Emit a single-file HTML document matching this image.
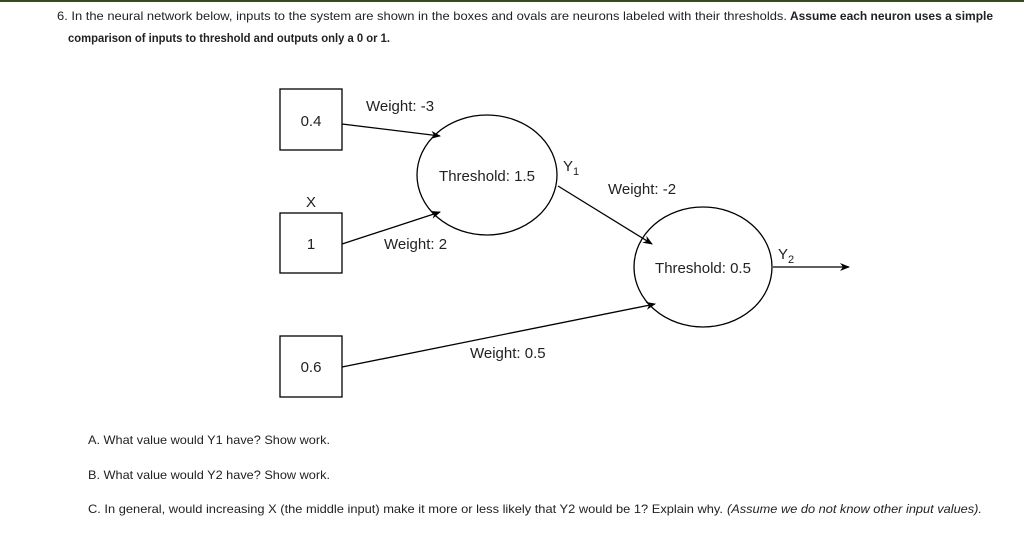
<!DOCTYPE html>
<html><head><meta charset="utf-8"><style>
html,body{margin:0;padding:0;background:#fff;}
svg{display:block;}
text{font-family:"Liberation Sans",sans-serif;fill:#222;}
</style></head><body>
<svg width="1024" height="544" viewBox="0 0 1024 544" xmlns="http://www.w3.org/2000/svg">
<defs><marker id="a" markerWidth="10" markerHeight="8" refX="9" refY="4" orient="auto" markerUnits="userSpaceOnUse"><path d="M0,0 L10,4 L0,8 L3,4 Z" fill="#000"/></marker></defs>
<rect x="0" y="0" width="1024" height="2" fill="#3a4a1e"/>
<text x="57" y="20" font-size="12" textLength="730" lengthAdjust="spacingAndGlyphs">6. In the neural network below, inputs to the system are shown in the boxes and ovals are neurons labeled with their thresholds.</text>
<text x="790" y="20" font-size="12" font-weight="bold" textLength="203" lengthAdjust="spacingAndGlyphs">Assume each neuron uses a simple</text>
<text x="68" y="42" font-size="12" font-weight="bold" textLength="322" lengthAdjust="spacingAndGlyphs">comparison of inputs to threshold and outputs only a 0 or 1.</text>

<g stroke="#000" stroke-width="1.3" fill="none">
<rect x="280" y="89" width="62" height="61"/>
<rect x="280" y="213" width="62" height="60"/>
<rect x="280" y="336" width="62" height="61"/>
<ellipse cx="487" cy="175" rx="70" ry="60"/>
<ellipse cx="703" cy="267" rx="69" ry="60"/>
<line x1="342" y1="124" x2="440" y2="136" marker-end="url(#a)"/>
<line x1="342" y1="244" x2="440" y2="212" marker-end="url(#a)"/>
<line x1="558" y1="186" x2="652" y2="244" marker-end="url(#a)"/>
<line x1="342" y1="367" x2="655" y2="304" marker-end="url(#a)"/>
<line x1="773" y1="267" x2="849" y2="267" marker-end="url(#a)"/>
</g>
<g font-size="15" fill="#222">
<text x="311" y="126" text-anchor="middle">0.4</text>
<text x="311" y="249" text-anchor="middle">1</text>
<text x="311" y="372" text-anchor="middle">0.6</text>
<text x="311" y="207" text-anchor="middle">X</text>
<text x="366" y="111">Weight: -3</text>
<text x="384" y="249">Weight: 2</text>
<text x="608" y="194">Weight: -2</text>
<text x="470" y="358">Weight: 0.5</text>
<text x="487" y="181" text-anchor="middle">Threshold: 1.5</text>
<text x="703" y="273" text-anchor="middle">Threshold: 0.5</text>
<text x="563" y="171">Y<tspan font-size="11" dy="4">1</tspan></text>
<text x="778" y="259">Y<tspan font-size="11" dy="4">2</tspan></text>
</g>
<text x="88" y="444" font-size="12" textLength="242" lengthAdjust="spacingAndGlyphs">A. What value would Y1 have? Show work.</text>
<text x="88" y="479" font-size="12" textLength="242" lengthAdjust="spacingAndGlyphs">B. What value would Y2 have? Show work.</text>
<text x="88" y="513" font-size="12" textLength="635" lengthAdjust="spacingAndGlyphs">C. In general, would increasing X (the middle input) make it more or less likely that Y2 would be 1? Explain why.</text>
<text x="727" y="513" font-size="12" font-style="italic" textLength="255" lengthAdjust="spacingAndGlyphs">(Assume we do not know other input values).</text>
</svg>
</body></html>
